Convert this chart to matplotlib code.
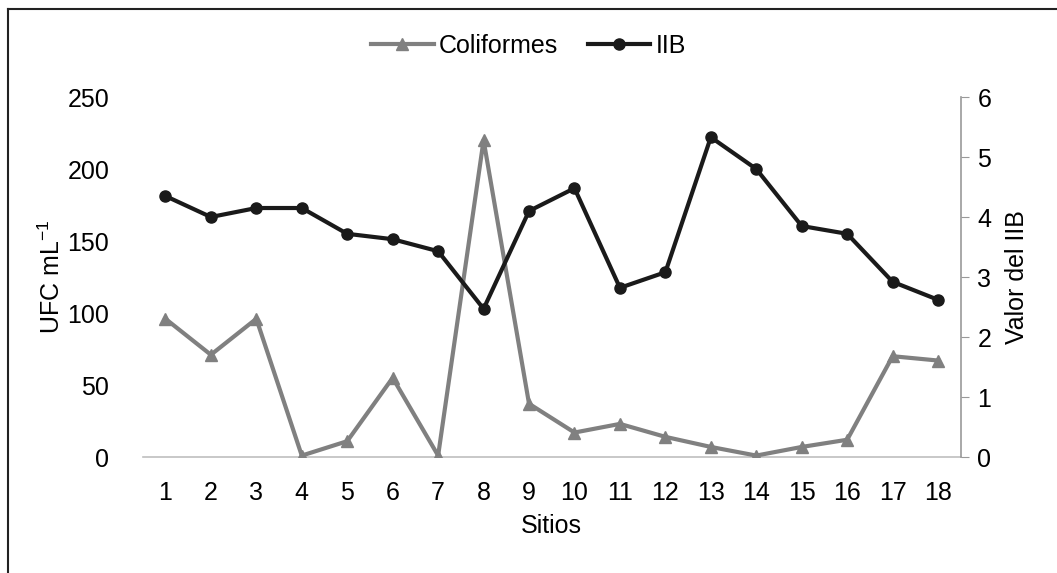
import numpy as np
import matplotlib.pyplot as plt
from matplotlib.lines import Line2D

plt.rcParams['font.family'] = ['Liberation Sans', 'DejaVu Sans']
plt.rcParams['mathtext.fontset'] = 'custom'
plt.rcParams['mathtext.rm'] = 'Liberation Sans'
plt.rcParams['mathtext.it'] = 'Liberation Sans'

sitios = list(range(1, 19))
coliformes = [96, 71, 96, 1, 11, 55, 1, 220, 37, 17, 23, 14, 7, 1, 7, 12, 70, 67]
iib = [4.35, 4.0, 4.15, 4.15, 3.72, 3.63, 3.43, 2.47, 4.1, 4.48, 2.82, 3.08, 5.33, 4.8,
       3.85, 3.72, 2.92, 2.62]

fig = plt.figure(figsize=(10.57, 5.73), dpi=100)
ax = fig.add_axes([0.135, 0.2024, 0.774, 0.6283])
ax2 = ax.twinx()

gris = '#808080'
ax.plot(sitios, coliformes, color=gris, lw=3, marker='^', ms=8, label='Coliformes', zorder=3)
ax2.plot(sitios, iib, color='#1a1a1a', lw=3, marker='o', ms=8, label='IIB', zorder=3)

ax.set_xlim(0.5, 18.5)
ax.set_ylim(0, 250)
ax.set_yticks(np.arange(0, 251, 50))
ax.set_xticks(sitios)
ax2.set_ylim(0, 6)
ax2.set_yticks(range(0, 7))

for a in (ax, ax2):
    for s in ('top', 'left', 'right', 'bottom'):
        a.spines[s].set_visible(False)
ax.spines['bottom'].set_visible(True)
ax.spines['bottom'].set_color('#bfbfbf')
ax.spines['bottom'].set_linewidth(1.2)
ax2.spines['right'].set_visible(True)
ax2.spines['right'].set_color('#999999')
ax2.spines['right'].set_linewidth(1.2)

ax.tick_params(axis='y', length=0, labelsize=18, pad=24)
ax.tick_params(axis='x', length=0, labelsize=18, pad=17)
ax2.tick_params(axis='y', length=6, color='#999999', labelsize=18, pad=6)

ax.set_xlabel('Sitios', fontsize=18, labelpad=7)
ax.set_ylabel('UFC mL$^{-1}$', fontsize=18, labelpad=2)
ax2.set_ylabel('Valor del IIB', fontsize=18, labelpad=10)

h1, l1 = ax.get_legend_handles_labels()
h2, l2 = ax2.get_legend_handles_labels()
fig.legend(h1 + h2, l1 + l2, loc='center', bbox_to_anchor=(0.5, 0.92), ncol=2,
           frameon=False, fontsize=18, handlelength=2.5, handletextpad=0.2, columnspacing=1.2)

# frame of the chart area (top and left edges visible)
fig.add_artist(Line2D([0.0076, 0.0076], [0, 0.984], transform=fig.transFigure, color='#222222', lw=1.5))
fig.add_artist(Line2D([0.0076, 1.0], [0.984, 0.984], transform=fig.transFigure, color='#222222', lw=1.5))

fig.savefig('out.png', dpi=100)
